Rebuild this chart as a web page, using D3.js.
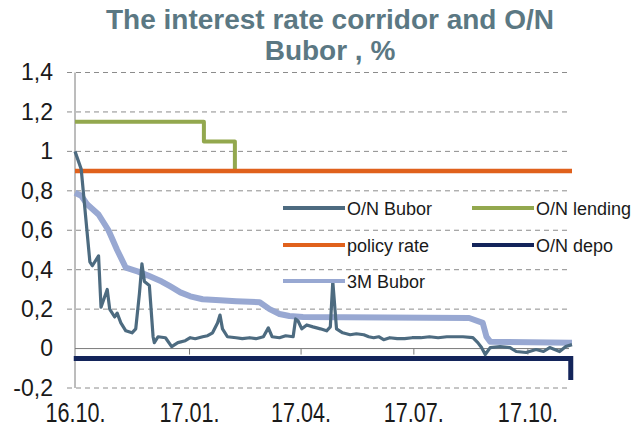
<!DOCTYPE html>
<html>
<head>
<meta charset="utf-8">
<script src="https://d3js.org/d3.v7.min.js"></script>
<style>
  html, body { margin: 0; padding: 0; background: #ffffff; }
  svg { display: block; font-family: "Liberation Sans", Arial, sans-serif; }
</style>
</head>
<body>
<svg id="chart" width="633" height="427"></svg>
<script>
// ---------------- data ----------------
const titleLines = ["The interest rate corridor and O/N", "Bubor , %"];

const yTickValues = [-0.2, 0, 0.2, 0.4, 0.6, 0.8, 1, 1.2, 1.4];
const yTickLabels = ["-0,2", "0", "0,2", "0,4", "0,6", "0,8", "1", "1,2", "1,4"];

const xTickDates = ["2016-10-01", "2017-01-01", "2017-04-01", "2017-07-01", "2017-10-01"];
const xTickLabels = ["16.10.", "17.01.", "17.04.", "17.07.", "17.10."];

const domainDates = ["2016-10-01", "2017-11-06"];

const onBuborDates = [
  "2016-10-01","2016-10-06","2016-10-13","2016-10-15","2016-10-20","2016-10-22","2016-10-27","2016-10-29","2016-11-02","2016-11-04",
  "2016-11-07","2016-11-11","2016-11-16","2016-11-19","2016-11-22","2016-11-24","2016-11-26","2016-11-30","2016-12-03","2016-12-04",
  "2016-12-07","2016-12-13","2016-12-18","2016-12-23","2016-12-29","2017-01-02","2017-01-06","2017-01-12","2017-01-16","2017-01-20",
  "2017-01-24","2017-01-26","2017-01-28","2017-02-01","2017-02-08","2017-02-13","2017-02-19","2017-02-24","2017-03-02","2017-03-06",
  "2017-03-09","2017-03-15","2017-03-20","2017-03-26","2017-03-28","2017-03-30","2017-04-02","2017-04-06","2017-04-11","2017-04-17",
  "2017-04-22","2017-04-25","2017-04-27","2017-04-30","2017-05-05","2017-05-11","2017-05-16","2017-05-22","2017-05-26","2017-05-30",
  "2017-06-03","2017-06-07","2017-06-12","2017-06-18","2017-06-24","2017-06-30","2017-07-07","2017-07-14","2017-07-21","2017-07-28",
  "2017-08-04","2017-08-10","2017-08-18","2017-08-22","2017-08-25","2017-08-28","2017-09-01","2017-09-09","2017-09-17","2017-09-22",
  "2017-09-30","2017-10-08","2017-10-14","2017-10-19","2017-10-27","2017-11-01","2017-11-06"
];
const onBuborValues = [
  1.0, 0.91, 0.44, 0.42, 0.47, 0.21, 0.30, 0.20, 0.16, 0.18,
  0.13, 0.09, 0.08, 0.10, 0.28, 0.43, 0.34, 0.32, 0.06, 0.03,
  0.06, 0.055, 0.01, 0.03, 0.04, 0.055, 0.05, 0.06, 0.065, 0.08,
  0.13, 0.17, 0.10, 0.06, 0.055, 0.05, 0.055, 0.05, 0.06, 0.105,
  0.06, 0.055, 0.065, 0.06, 0.15, 0.14, 0.10, 0.12, 0.11, 0.10,
  0.09, 0.11, 0.34, 0.10, 0.08, 0.07, 0.075, 0.07, 0.06, 0.055,
  0.06, 0.045, 0.055, 0.05, 0.05, 0.055, 0.055, 0.06, 0.055, 0.06,
  0.06, 0.06, 0.055, 0.03, 0.005, -0.03, 0.005, 0.01, 0.005, -0.015,
  -0.02, -0.005, -0.015, 0.005, -0.015, 0.01, 0.02
];

const bubor3MDates = ["2016-10-01","2016-10-06","2016-10-11","2016-10-20","2016-10-28","2016-11-04","2016-11-11","2016-11-21","2016-11-29","2016-12-10","2016-12-17","2016-12-25","2017-01-02","2017-01-12","2017-01-26","2017-02-08","2017-02-27","2017-03-07","2017-03-15","2017-03-23","2017-04-03","2017-08-15","2017-08-26","2017-08-29","2017-09-01","2017-11-06"];
const bubor3MValues = [0.79,0.775,0.73,0.68,0.60,0.50,0.41,0.39,0.37,0.34,0.315,0.285,0.265,0.25,0.245,0.24,0.235,0.20,0.175,0.165,0.16,0.155,0.13,0.06,0.035,0.03];

const lendingDates = ["2016-10-01","2017-01-13","2017-02-07","2017-11-06"];
const lendingValues = [1.15, 1.05, 0.9, 0.9];

const policyDates = ["2016-10-01","2017-11-06"];
const policyValues = [0.9, 0.9];

const depoDates = ["2016-09-30","2017-11-05","2017-11-05"];
const depoValues = [-0.05, -0.05, -0.16];

const seriesNames = ["O/N Bubor", "O/N lending", "policy rate", "O/N depo", "3M Bubor"];

// ---------------- drawing ----------------
const parse = d3.timeParse("%Y-%m-%d");
const svg = d3.select("#chart");

const x = d3.scaleTime().domain(domainDates.map(parse)).range([75, 572]);
const y = d3.scaleLinear().domain([-0.2, 1.4]).range([388, 72.5]);

const colors = {
  "O/N Bubor": "#4d6b80",
  "O/N lending": "#93a84e",
  "policy rate": "#e0611c",
  "O/N depo": "#13245a",
  "3M Bubor": "#98a8d2"
};
const widths = {
  "O/N Bubor": 3.2,
  "O/N lending": 4,
  "policy rate": 4.5,
  "O/N depo": 5,
  "3M Bubor": 6
};

// title
svg.selectAll("text.title")
  .data(titleLines)
  .join("text")
  .attr("class", "title")
  .attr("x", 330)
  .attr("y", (d, i) => 29 + i * 31)
  .attr("text-anchor", "middle")
  .attr("font-size", 28)
  .attr("font-weight", "bold")
  .attr("fill", "#5b7883")
  .text(d => d);

// gridlines (dashed), skipping zero (solid axis)
const grid = svg.append("g");
grid.selectAll("line")
  .data(yTickValues.filter(v => v !== 0))
  .join("line")
  .attr("x1", 67).attr("x2", 569)
  .attr("y1", d => y(d)).attr("y2", d => y(d))
  .attr("stroke", "#8c8c8c")
  .attr("stroke-width", 1)
  .attr("stroke-dasharray", "5,4");

// y axis labels
const yAxis = d3.axisLeft(y)
  .tickValues(yTickValues)
  .tickFormat((d, i) => yTickLabels[i])
  .tickSize(0)
  .tickPadding(22);
const gy = svg.append("g").attr("transform", "translate(75,0)").call(yAxis);
gy.select(".domain").remove();
gy.selectAll("text")
  .attr("font-size", 23)
  .attr("font-family", "'Liberation Sans', Arial, sans-serif")
  .attr("fill", "#1a1a1a");

// y axis line
svg.append("line")
  .attr("x1", 75).attr("x2", 75)
  .attr("y1", y(1.4)).attr("y2", y(-0.2))
  .attr("stroke", "#7a7a7a").attr("stroke-width", 1);

// x axis at zero with ticks
const xAxis = d3.axisBottom(x)
  .tickValues(xTickDates.slice(1).map(parse))
  .tickFormat("")
  .tickSizeInner(6)
  .tickSizeOuter(0);
const gx = svg.append("g").attr("transform", `translate(0,${y(0)})`).call(xAxis);
gx.select(".domain").attr("stroke", "#7a7a7a").attr("d", `M75,0H569`);
gx.selectAll(".tick line").attr("stroke", "#7a7a7a");

// x labels via an axis at bottom
const xLabelAxis = d3.axisBottom(x)
  .tickValues(xTickDates.map(parse))
  .tickFormat((d, i) => xTickLabels[i])
  .tickSize(0)
  .tickPadding(0);
const gxl = svg.append("g").attr("transform", "translate(0,403)").call(xLabelAxis);
gxl.select(".domain").remove();
gxl.selectAll("text")
  .attr("font-size", 27)
  .attr("font-family", "'Liberation Sans', Arial, sans-serif")
  .attr("fill", "#1a1a1a")
  .attr("dy", "0.71em")
  .attr("transform", "scale(0.8,1)");

// series
const line = d3.line().x(d => x(d.date)).y(d => y(d.v));
const stepLine = d3.line().x(d => x(d.date)).y(d => y(d.v)).curve(d3.curveStepAfter);
function zip(dates, vals) { return dates.map((d, i) => ({ date: parse(d), v: vals[i] })); }

const plot = svg.append("g").attr("fill", "none").attr("stroke-linejoin", "round");

plot.append("path").datum(zip(lendingDates, lendingValues))
  .attr("d", stepLine).attr("stroke", colors["O/N lending"]).attr("stroke-width", widths["O/N lending"]);
plot.append("path").datum(zip(policyDates, policyValues))
  .attr("d", line).attr("stroke", colors["policy rate"]).attr("stroke-width", widths["policy rate"]);
plot.append("path").datum(zip(depoDates, depoValues))
  .attr("d", line).attr("stroke", colors["O/N depo"]).attr("stroke-width", widths["O/N depo"])
  .attr("stroke-linejoin", "miter");
plot.append("path").datum(zip(bubor3MDates, bubor3MValues))
  .attr("d", line).attr("stroke", colors["3M Bubor"]).attr("stroke-width", widths["3M Bubor"]);
plot.append("path").datum(zip(onBuborDates, onBuborValues))
  .attr("d", line).attr("stroke", colors["O/N Bubor"]).attr("stroke-width", widths["O/N Bubor"]);

// legend
const legendPos = {
  "O/N Bubor": [283, 208],
  "O/N lending": [472, 208],
  "policy rate": [283, 245],
  "O/N depo": [472, 245],
  "3M Bubor": [283, 281]
};
const lg = svg.append("g");
const items = lg.selectAll("g").data(seriesNames).join("g")
  .attr("transform", d => `translate(${legendPos[d][0]},${legendPos[d][1]})`);
items.append("line")
  .attr("x1", 0).attr("x2", 62).attr("y1", 0).attr("y2", 0)
  .attr("stroke", d => colors[d]).attr("stroke-width", 4);
items.append("text")
  .attr("x", 64).attr("y", 6.5)
  .attr("font-size", 18)
  .attr("fill", "#1a1a1a")
  .text(d => d);
</script>
</body>
</html>
